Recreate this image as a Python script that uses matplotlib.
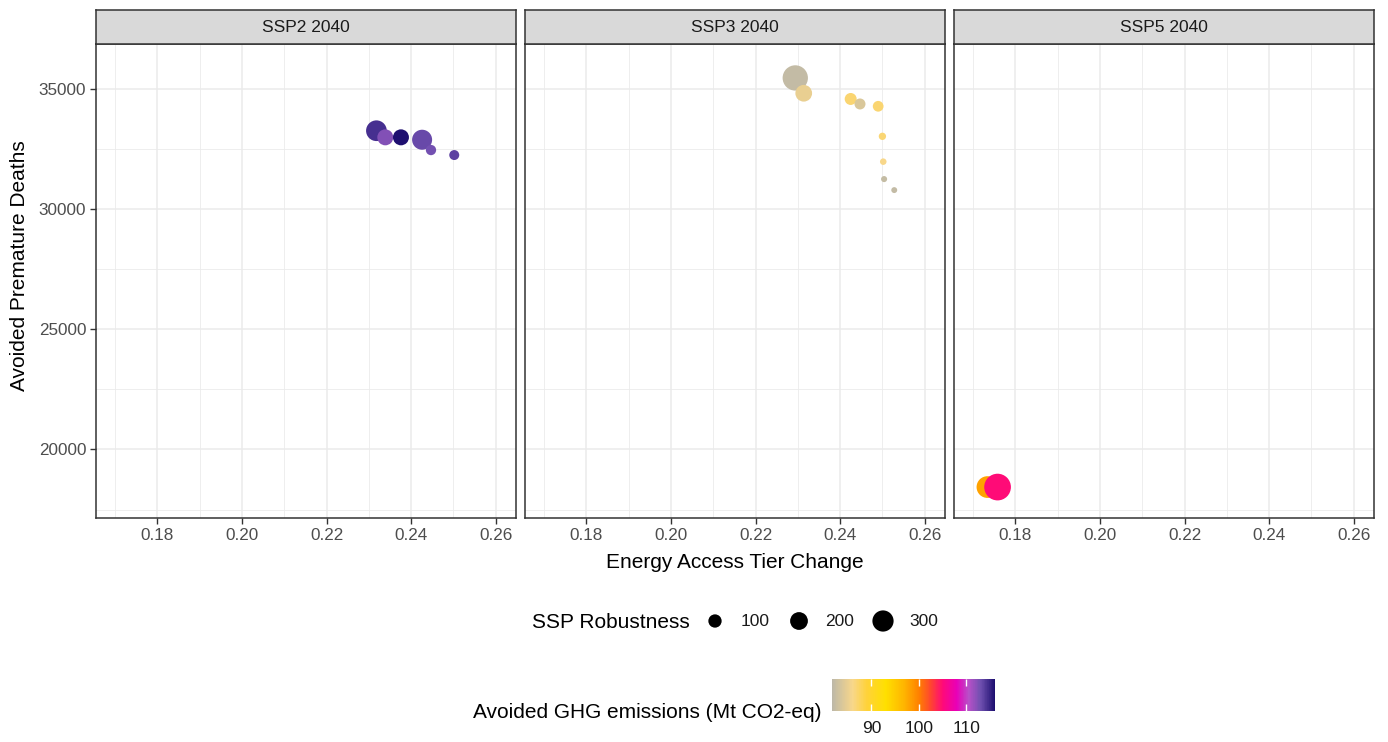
import numpy as np
import matplotlib
matplotlib.use("Agg")
import matplotlib.pyplot as plt
from matplotlib.colors import LinearSegmentedColormap, Normalize
from matplotlib.cm import ScalarMappable
from matplotlib.patches import Rectangle

plt.rcParams['font.family'] = ['Liberation Sans', 'DejaVu Sans']

# facet panels
panels = ['SSP2 2040', 'SSP3 2040', 'SSP5 2040']

# energy access tier change (x), avoided deaths (y), robustness (size), avoided GHG (colour)
tier_ssp2 = [0.2318, 0.2339, 0.2376, 0.2426, 0.2447, 0.2502]
deaths_ssp2 = [33262, 32987, 32987, 32887, 32458, 32250]
robust_ssp2 = [284, 156, 156, 263, 52, 48]
ghg_ssp2 = [114.5, 112.3, 116.0, 113.2, 112.8, 113.6]

tier_ssp3 = [0.2294, 0.2314, 0.2425, 0.2447, 0.2490, 0.2500, 0.2502, 0.2504, 0.2528]
deaths_ssp3 = [35458, 34821, 34583, 34375, 34279, 33029, 31975, 31250, 30792]
robust_ssp3 = [446, 173, 77, 62, 58, 20, 14, 11, 10]
ghg_ssp3 = [82.2, 85.0, 87.0, 83.8, 87.0, 86.8, 86.0, 82.3, 82.2]

tier_ssp5 = [0.1734, 0.1758]
deaths_ssp5 = [18437, 18437]
robust_ssp5 = [316, 502]
ghg_ssp5 = [98.0, 105.0]

size_breaks = [100, 200, 300]
ghg_ticks = [90, 100, 110]
ghg_min, ghg_max = 81.7, 116.0

# custom gradient for avoided emissions
ghg_stops = [81.7, 86.0, 89.0, 93.0, 97.0, 100.0, 102.5, 105.0, 108.0, 110.5, 113.0, 116.0]
ghg_colors = ['#bdb8a8', '#f8d78a', '#ffd23a', '#ffe000', '#ffb300', '#ff8000',
              '#ff4530', '#ff0a78', '#e800b8', '#b850c8', '#7050b0', '#1e0f70']
cmap = LinearSegmentedColormap.from_list(
    'ghg', [((v - ghg_min) / (ghg_max - ghg_min), c) for v, c in zip(ghg_stops, ghg_colors)])
norm = Normalize(ghg_min, ghg_max)


def point_size(v):
    # diameter grows with sqrt of robustness, converted to points^2
    d_px = 2.5 + 1.08 * np.sqrt(np.asarray(v, dtype=float))
    return (d_px * 0.72) ** 2


W, H = 1388, 742
fig = plt.figure(figsize=(W / 100, H / 100), dpi=100)


def px_rect(x0, y0, x1, y1):
    return [x0 / W, 1 - y1 / H, (x1 - x0) / W, (y1 - y0) / H]


lefts = [96, 525, 954]
pw = 420
top, bottom = 44, 518
strip_top = 10

data = [(tier_ssp2, deaths_ssp2, robust_ssp2, ghg_ssp2),
        (tier_ssp3, deaths_ssp3, robust_ssp3, ghg_ssp3),
        (tier_ssp5, deaths_ssp5, robust_ssp5, ghg_ssp5)]

for i, (name, (x, y, r, g)) in enumerate(zip(panels, data)):
    ax = fig.add_axes(px_rect(lefts[i], top, lefts[i] + pw, bottom))
    ax.set_xlim(0.1655, 0.2648)
    ax.set_ylim(17150, 36870)
    ax.set_xticks([0.18, 0.20, 0.22, 0.24, 0.26])
    ax.set_xticks([0.17, 0.19, 0.21, 0.23, 0.25], minor=True)
    ax.set_yticks([20000, 25000, 30000, 35000])
    ax.set_yticks([17500, 22500, 27500, 32500], minor=True)
    ax.set_xticklabels(['0.18', '0.20', '0.22', '0.24', '0.26'])
    ax.grid(True, which='major', color='#ebebeb', lw=1.1)
    ax.grid(True, which='minor', color='#ebebeb', lw=0.6)
    ax.set_axisbelow(True)
    for s in ax.spines.values():
        s.set_color('#333333')
        s.set_linewidth(1.1)
    ax.tick_params(which='major', length=4, width=1.0, color='#333333',
                   labelsize=12.3, labelcolor='#4d4d4d', pad=3)
    ax.tick_params(which='minor', length=0)
    if i > 0:
        ax.set_yticklabels([])
        ax.tick_params(axis='y', which='major', length=0)
    ax.scatter(x, y, s=point_size(r), c=g, cmap=cmap, norm=norm, linewidths=0, zorder=3)

    # facet strip
    sax = fig.add_axes(px_rect(lefts[i], strip_top, lefts[i] + pw, top))
    sax.set_xticks([])
    sax.set_yticks([])
    sax.set_facecolor('#d9d9d9')
    for s in sax.spines.values():
        s.set_color('#333333')
        s.set_linewidth(1.1)
    sax.text(0.5, 0.48, name, ha='center', va='center', fontsize=12.5,
             color='#1a1a1a', transform=sax.transAxes)

fig.text(735 / W, 1 - 562 / H, 'Energy Access Tier Change', ha='center', va='center', fontsize=15)
fig.text(20 / W, 1 - 266 / H, 'Avoided Premature Deaths', ha='center', va='center',
         rotation=90, fontsize=15)

# size legend
lax = fig.add_axes([0, 0, 1, 1])
lax.set_xlim(0, W)
lax.set_ylim(H, 0)
lax.axis('off')
key_x = [715, 799, 883]
lax.scatter(key_x, [621] * 3, s=point_size(size_breaks), c='black', linewidths=0)
for kx, b in zip(key_x, size_breaks):
    lax.text(kx + 26, 622, str(b), ha='left', va='center', fontsize=12.5, color='#1a1a1a')
lax.text(690, 622, 'SSP Robustness', ha='right', va='center', fontsize=15)

# colour bar legend
cax = fig.add_axes(px_rect(832, 679, 995, 711))
cb = fig.colorbar(ScalarMappable(norm=norm, cmap=cmap), cax=cax, orientation='horizontal')
cb.outline.set_visible(False)
cb.set_ticks(ghg_ticks)
cax.tick_params(axis='x', which='both', direction='in', top=True, bottom=True,
                color='white', length=5, width=1.0, labelsize=12.5, labelcolor='#1a1a1a', pad=7)
cax.minorticks_off()
lax.text(822, 712, 'Avoided GHG emissions (Mt CO2-eq)', ha='right', va='center', fontsize=15)

fig.savefig('out.png', dpi=100)
